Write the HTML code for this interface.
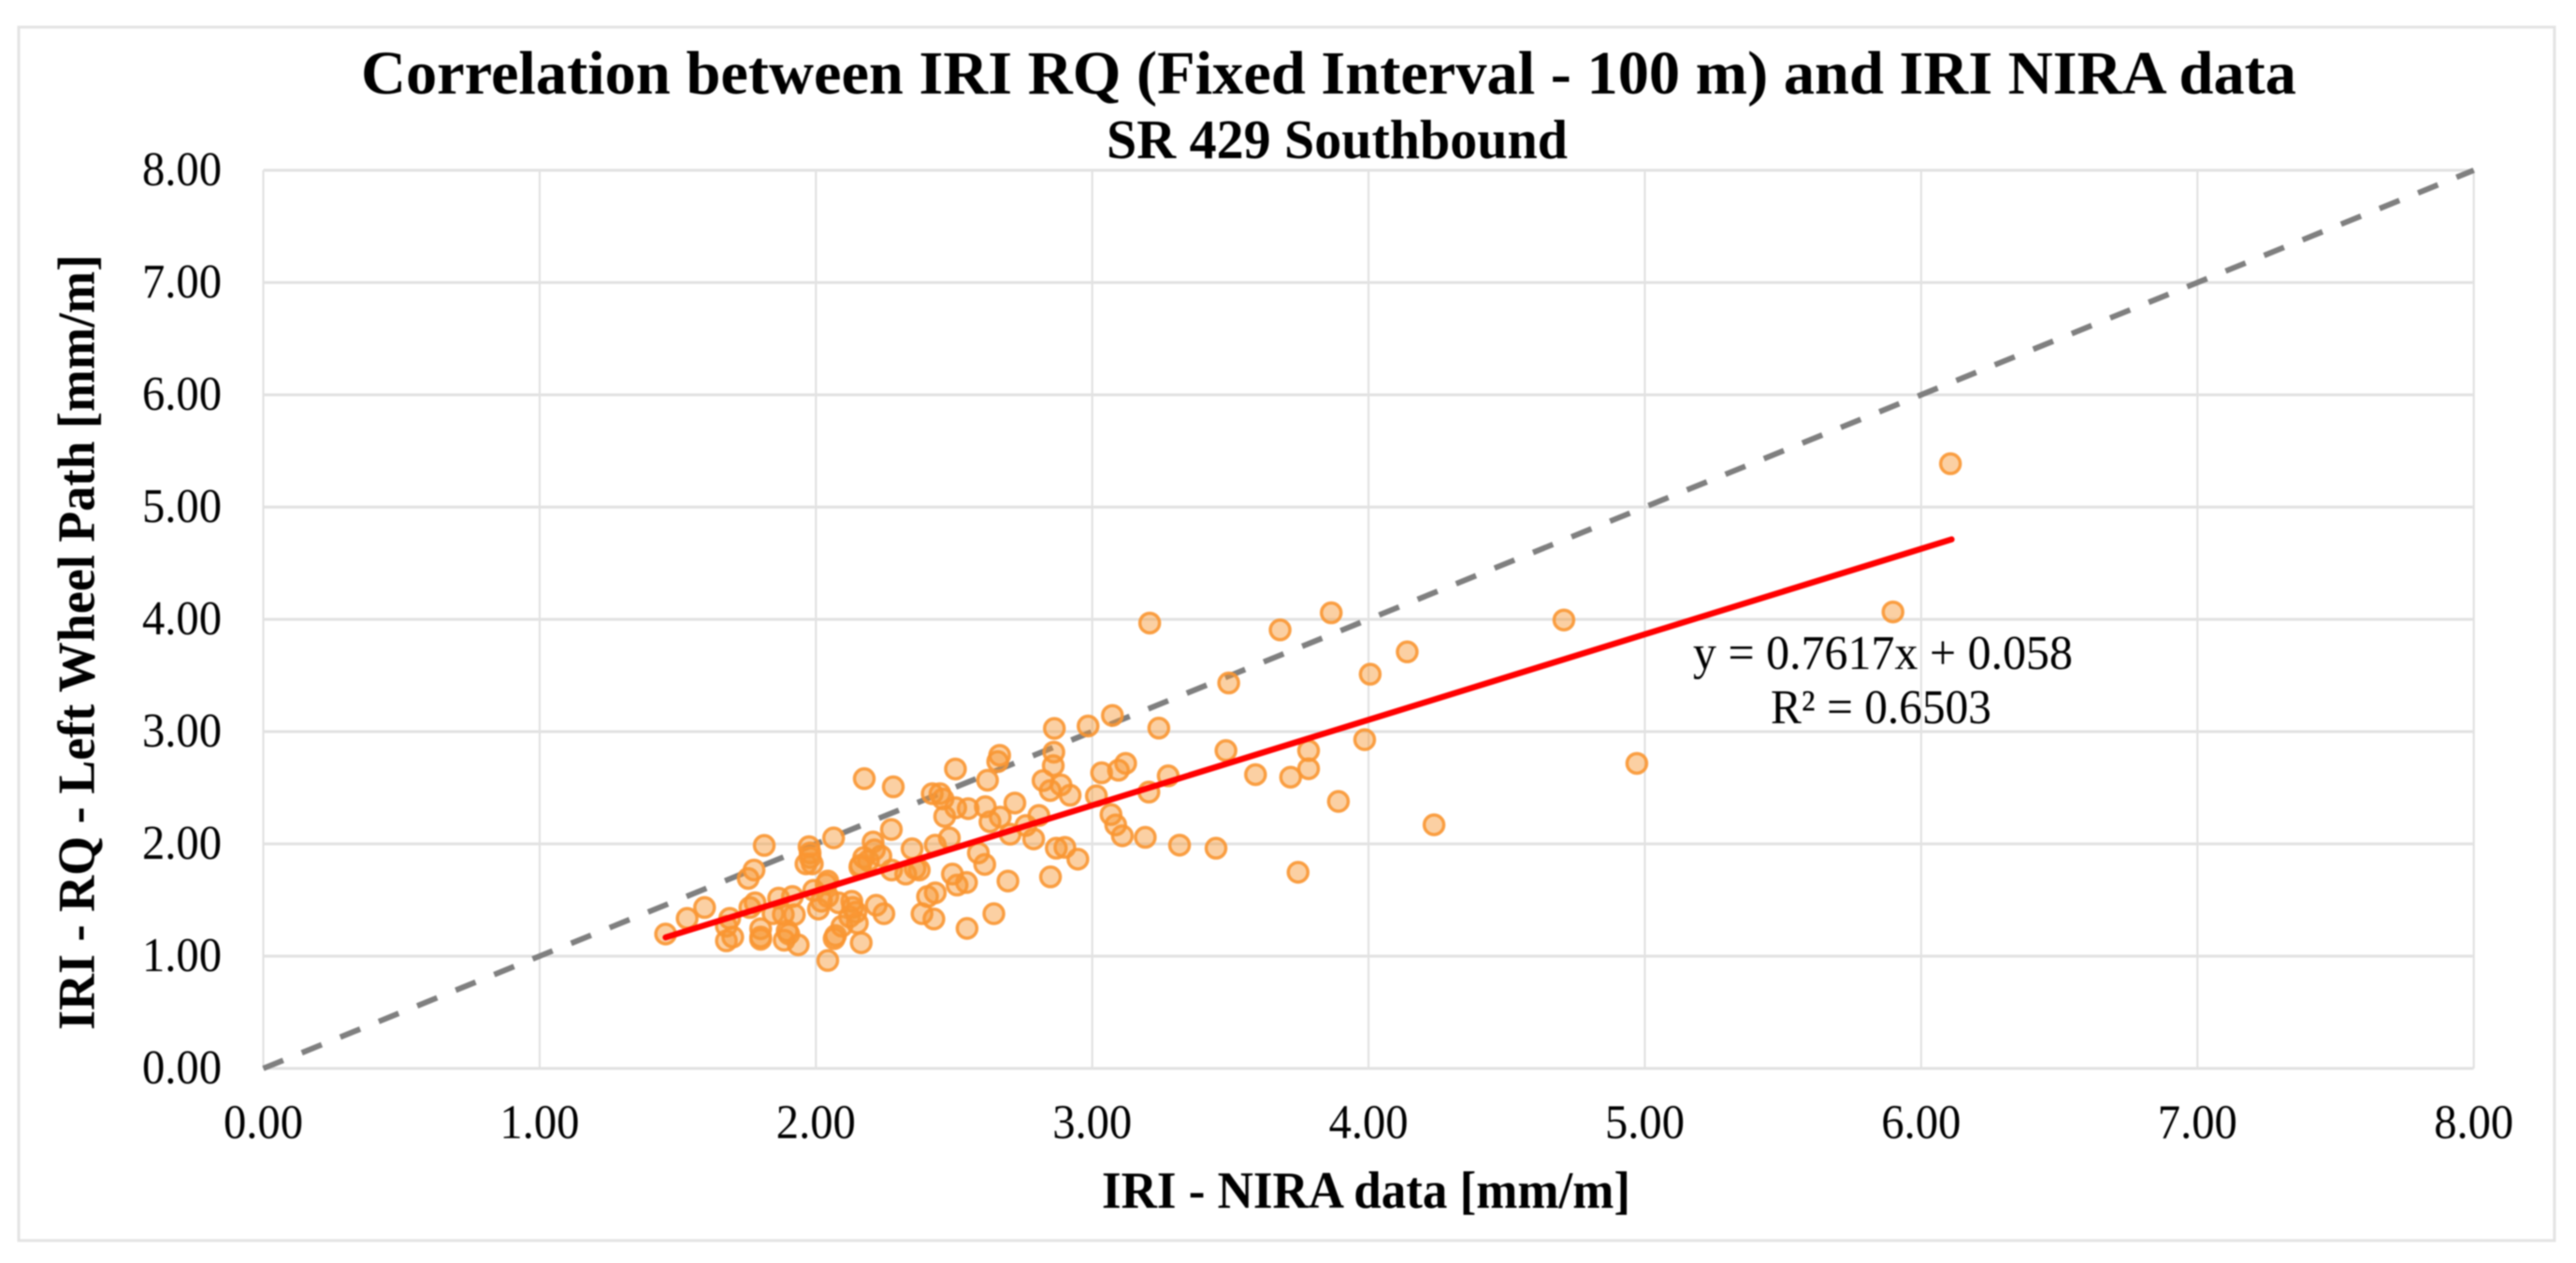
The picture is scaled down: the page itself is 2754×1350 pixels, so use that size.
<!DOCTYPE html>
<html lang="en">
<head>
<meta charset="utf-8">
<title>Correlation between IRI RQ and IRI NIRA data</title>
<style>
html,body{margin:0;padding:0;background:#fff;width:2754px;height:1350px;overflow:hidden}
svg{display:block;filter:blur(0.8px)}
text{font-family:"Liberation Serif",serif;fill:#000}
.b{font-weight:bold}
</style>
</head>
<body>
<svg id="chart" xmlns="http://www.w3.org/2000/svg" width="2754" height="1350" viewBox="0 0 2754 1350">
  <rect x="20" y="29" width="2711" height="1297" fill="#fff" stroke="#e3e3e3" stroke-width="3"/>
  <g id="grid"></g>
  <text class="b" x="386" y="100" font-size="66" textLength="2069" lengthAdjust="spacingAndGlyphs">Correlation between IRI RQ (Fixed Interval - 100 m) and IRI NIRA data</text>
  <text class="b" x="1183" y="169" font-size="59" textLength="493" lengthAdjust="spacingAndGlyphs">SR 429 Southbound</text>
  <g id="xticks"></g>
  <g id="yticks"></g>
  <text class="b" x="1178" y="1291" font-size="56" textLength="565" lengthAdjust="spacingAndGlyphs">IRI - NIRA data [mm/m]</text>
  <text class="b" transform="translate(100.5 1101) rotate(-90)" font-size="56" textLength="829" lengthAdjust="spacingAndGlyphs">IRI - RQ - Left Wheel Path [mm/m]</text>
  <line id="refline" stroke="#7f7f7f" stroke-width="6" stroke-dasharray="23 21.4"/>
  <g id="points"></g>
  <line id="trend" stroke="#ff0000" stroke-width="6.5" stroke-linecap="round"/>
  <text x="1810" y="715" font-size="52" textLength="406" lengthAdjust="spacingAndGlyphs">y = 0.7617x + 0.058</text>
  <text x="1893" y="773" font-size="52" textLength="236" lengthAdjust="spacingAndGlyphs">R² = 0.6503</text>
</svg>
<script>
const xTickValues = [0, 1, 2, 3, 4, 5, 6, 7, 8];
const yTickValues = [0, 1, 2, 3, 4, 5, 6, 7, 8];
const refLineValues = [0, 8];
const trendSlope = 0.7617;
const trendIntercept = 0.058;
const trendRange = [1.456, 6.11];
const xValues = [
1.456,1.534,1.597,1.688,1.676,1.699,1.676,1.761,1.780,1.755,1.776,1.813,1.800,1.800,1.800,
1.865,1.915,1.845,1.882,1.922,1.896,1.902,1.885,1.936,1.992,2.043,2.037,1.975,1.979,1.979,
1.964,1.987,2.064,2.020,2.009,2.043,2.043,2.071,2.066,2.094,2.082,2.130,2.133,2.145,2.122,
2.150,2.164,2.218,2.246,2.161,2.173,2.190,2.235,2.207,2.212,2.273,2.159,2.175,2.280,2.274,
2.325,2.348,2.359,2.374,2.432,2.483,2.384,2.404,2.432,2.427,2.494,2.511,2.545,2.547,2.644,
2.695,2.588,2.611,2.421,2.449,2.460,2.466,2.505,2.506,2.551,2.613,2.621,2.630,2.667,2.658,
2.665,2.720,2.703,2.760,2.788,2.807,2.849,2.822,2.848,2.887,2.920,2.859,2.861,2.863,2.985,
3.073,3.034,3.095,3.121,3.015,2.870,2.901,2.948,3.068,3.085,3.109,3.192,3.316,3.448,3.745,
3.205,3.275,3.241,3.208,3.494,3.484,3.591,3.718,3.783,3.783,3.891,3.986,4.006,3.680,3.865,
4.140,4.237,4.707,4.971,5.898,6.106
];
const yValues = [
1.197,1.336,1.433,1.336,1.267,1.170,1.136,1.433,1.475,1.692,1.767,1.986,1.244,1.170,1.150,
1.517,1.531,1.378,1.372,1.369,1.225,1.197,1.142,1.100,1.586,1.669,1.642,1.975,1.919,1.878,
1.822,1.822,2.053,1.489,1.419,1.531,0.961,1.183,1.156,1.267,1.475,1.489,1.433,1.392,1.350,
1.294,1.119,1.453,1.378,1.808,1.878,1.850,1.892,2.017,1.947,2.128,1.794,2.581,2.508,1.767,
1.731,1.956,1.781,1.767,1.989,2.053,1.378,1.531,1.564,1.331,1.731,1.633,1.656,1.247,1.378,
1.669,1.919,1.817,2.447,2.447,2.400,2.244,2.667,2.322,2.314,2.331,2.567,2.197,2.239,2.733,
2.789,2.364,2.086,2.164,2.044,2.253,1.706,2.564,2.475,2.525,2.433,2.697,2.817,3.028,3.050,
3.144,2.633,2.656,2.717,2.428,1.961,1.969,1.864,2.261,2.169,2.072,2.058,1.989,1.961,1.747,
2.461,2.606,3.031,3.967,3.433,2.831,2.617,2.594,2.669,2.831,2.378,2.928,3.511,3.906,4.058,
3.710,2.170,3.994,2.717,4.066,5.386
];

const NS = 'http://www.w3.org/2000/svg';
const plot = { left: 281.5, top: 182, unitX: 295.4, unitY: 120, max: 8 };
function xScale(v) { return plot.left + v * plot.unitX; }
function yScale(v) { return plot.top + (plot.max - v) * plot.unitY; }

const grid = document.getElementById('grid');
const xticks = document.getElementById('xticks');
const yticks = document.getElementById('yticks');

xTickValues.forEach(function (t) {
  const g = document.createElementNS(NS, 'line');
  
  
  g.setAttribute('x1', xScale(t));
  g.setAttribute('x2', xScale(t));
  g.setAttribute('y1', yScale(8));
  g.setAttribute('y2', yScale(0));
  g.setAttribute('stroke', '#dfdfdf');
  g.setAttribute('stroke-width', '2');
  grid.appendChild(g);
  const l = document.createElementNS(NS, 'text');
  
  
  l.setAttribute('x', xScale(t) - 42.5);
  l.setAttribute('y', 1216.5);
  l.setAttribute('font-size', '52');
  l.setAttribute('textLength', '85');
  l.setAttribute('lengthAdjust', 'spacingAndGlyphs');
  l.textContent = t.toFixed(2);
  xticks.appendChild(l);
});

yTickValues.forEach(function (t) {
  const g = document.createElementNS(NS, 'line');
  
  
  g.setAttribute('x1', xScale(0));
  g.setAttribute('x2', xScale(8));
  g.setAttribute('y1', yScale(t));
  g.setAttribute('y2', yScale(t));
  g.setAttribute('stroke', '#e2e2e2');
  g.setAttribute('stroke-width', '3');
  grid.appendChild(g);
  const l = document.createElementNS(NS, 'text');
  
  
  l.setAttribute('x', 152);
  l.setAttribute('y', yScale(t) + 16);
  l.setAttribute('font-size', '52');
  l.setAttribute('textLength', '85');
  l.setAttribute('lengthAdjust', 'spacingAndGlyphs');
  l.textContent = t.toFixed(2);
  yticks.appendChild(l);
});

const ref = document.getElementById('refline');
ref.setAttribute('x1', xScale(refLineValues[0]));
ref.setAttribute('y1', yScale(refLineValues[0]));
ref.setAttribute('x2', xScale(refLineValues[1]));
ref.setAttribute('y2', yScale(refLineValues[1]));

const points = document.getElementById('points');
xValues.forEach(function (v, i) {
  const c = document.createElementNS(NS, 'circle');
  
  
  c.setAttribute('cx', xScale(v));
  c.setAttribute('cy', yScale(yValues[i]));
  c.setAttribute('r', '10.5');
  c.setAttribute('fill', 'rgba(246,150,50,0.45)');
  c.setAttribute('stroke', 'rgba(250,150,50,0.9)');
  c.setAttribute('stroke-width', '3.5');
  points.appendChild(c);
});

const trend = document.getElementById('trend');
trend.setAttribute('x1', xScale(trendRange[0]));
trend.setAttribute('y1', yScale(trendSlope * trendRange[0] + trendIntercept));
trend.setAttribute('x2', xScale(trendRange[1]));
trend.setAttribute('y2', yScale(trendSlope * trendRange[1] + trendIntercept));
</script>
</body>
</html>
